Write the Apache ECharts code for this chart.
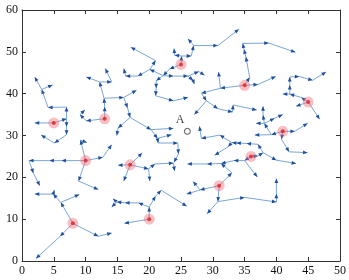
<!DOCTYPE html>
<html><head><meta charset="utf-8">
<script src="https://cdn.jsdelivr.net/npm/echarts@6/dist/echarts.min.js"></script>
<style>html,body{margin:0;padding:0;background:#fff}#c{width:349px;height:280px}</style>
</head><body><div id="c"></div>
<script>
// Axis ticks
var xTicks = [0,5,10,15,20,25,30,35,40,45,50];
var yTicks = [0,10,20,30,40,50,60];
// Red hub (source) nodes
var hubs = [[5,33],[13,34],[25,47],[35,42],[45,38],[10,24],[17,23],[41,31],[36,25],[31,18],[8,9],[20,10]];
// Point A
var pointA = [[26,31]];
// Trees as polylines (parent -> child)
var tree1 = [
 [[5,33],[2,33]],
 [[5,33],[7,34],[7,36.8],[4.1,36.7],[3.1,41],[2,44]],
 [[3.1,41],[4.8,42.1]],
 [[7,34],[7,32.1],[7,30.2],[5.1,28.2],[3,30.1]]
];
var tree2 = [
 [[13,34],[10.1,33.5],[9.1,35],[9.9,36.1]],
 [[13,34],[13,36.9],[12.9,38.9],[12.2,42.8],[10.1,44]],
 [[12.2,42.8],[14.1,42.8],[13.1,46]],
 [[12.9,38.9],[16,39.1],[18,40.8]],
 [[16,39.1],[16.6,36.6],[17,34.3],[20.3,31.4],[23.8,31.7]],
 [[20.3,31.4],[21.3,29.3],[23.5,30.2]],
 [[21.3,29.3],[21.4,28.2],[24.5,28.2],[24.6,25.6],[23.9,23.6]],
 [[17,34.3],[15.1,31.8],[14.9,30]]
];
var tree3 = [
 [[25,47],[25.1,49],[26.6,49],[27,51.5],[26.1,53.1]],
 [[25.1,49],[24,49.2],[23.9,50.8]],
 [[27,51.5],[30.8,51.5],[34.1,55.4]],
 [[25,47],[23.2,45.9],[22.2,44.3],[20.1,45.8],[18.2,44.2],[16.3,44.2],[16,46]],
 [[20.1,45.8],[21,47.9],[17.1,51.1]],
 [[22.2,44.3],[23.8,44.2],[26.1,44.2],[26.9,43.2],[27.1,42.3]],
 [[26.1,44.2],[27.8,45.3],[28.7,44.4]],
 [[22.2,44.3],[21.1,43.1],[21.1,41.3],[21,39.5],[23.8,38.3],[26.1,39.1]]
];
var tree4 = [
 [[35,42],[31.2,41.3],[30.9,45.2]],
 [[31.2,41.3],[28.2,40.1],[29,38.3],[30.8,36.4],[33.1,35.6],[33.2,37.3],[36.9,36.1]],
 [[29,38.3],[27.1,35]],
 [[35,42],[37.1,42.2],[39.9,44.1]],
 [[35,42],[35.8,43.9],[35.2,48.8],[34.9,50.6],[34.7,52],[38.8,52.1],[43,49.9]]
];
var tree5 = [
 [[45,38],[43.9,39.1],[42.1,39.9],[41,39.9]],
 [[42.1,39.9],[42.1,42.1],[42.1,44],[43.6,44.1],[45.7,43.2],[47.8,45.2]],
 [[45,38],[43.1,37]],
 [[45,38],[46.8,33.9]]
];
var tree6 = [
 [[10,24],[6.2,24],[4.3,24],[1.1,24],[1.8,21],[2.8,18]],
 [[10,24],[12.7,24.8],[14.1,27.8]],
 [[10,24],[8.9,19.1],[12,17.1]],
 [[10,24],[9.2,28.9],[10.2,28.3]]
];
var tree7 = [
 [[17,23],[18.9,25.8]],
 [[17,23],[15.1,22.9]],
 [[17,23],[16,19.1]],
 [[17,23],[19.9,22],[20.1,19.1]],
 [[19.9,22],[20.9,23.2],[23.8,23.4],[24,21.5]]
];
var tree8 = [
 [[41,31],[42.9,31],[44.9,32.9]],
 [[41,31],[39.2,30.2],[36.6,30.1]],
 [[39.2,30.2],[38.1,32.9],[36.8,32.9]],
 [[38.1,32.9],[37.9,34.9],[37.9,37]],
 [[38.1,32.9],[39.7,34.1],[41,35]],
 [[41,31],[40.8,29.1],[42,26.1],[44.9,25.9]]
];
var tree9 = [
 [[36,25],[37.1,25.1],[37.9,25.9],[37.1,27.9],[35.3,28.1],[33.7,28.2],[33,28.3]],
 [[37.9,25.9],[40,24.1],[43.1,23.3]],
 [[36,25],[35,24],[33.3,24],[31.3,23.3],[29.1,23.2],[26,23.2]],
 [[35,24],[37,20.1]],
 [[33,28.3],[31.1,30.1],[28.2,29.3],[27.9,32.2]],
 [[33,28.3],[32.4,27.3],[30.3,25.3]]
];
var tree10 = [
 [[31,18],[33,21.1],[31.3,23.3]],
 [[31,18],[28,17],[25.9,16]],
 [[28,17],[26.9,19]],
 [[31,18],[30.8,14.2],[29.1,11.3]],
 [[30.8,14.2],[35,15.2],[40,14.1],[40,16.1],[40,19.7]]
];
var tree11 = [
 [[8,9],[6.1,14],[4.9,16],[2,16]],
 [[4.9,16],[5.1,17]],
 [[6.1,14],[9,15.9]],
 [[8,9],[6,5.9],[2.2,0.6]],
 [[8,9],[12,5.9],[14.1,6.7]]
];
var tree12 = [
 [[20,10],[16.1,9]],
 [[20,10],[20,12.9],[21,15.5],[21.9,16.9],[25.9,13.1]],
 [[20,12.9],[18.3,13.9],[16.2,13.9],[14.9,14.1],[14.3,14.9]],
 [[14.9,14.1],[14.1,12.9]]
];

var trees = [tree1,tree2,tree3,tree4,tree5,tree6,tree7,tree8,tree9,tree10,tree11,tree12];
var edges = [];
trees.forEach(function(t){ t.forEach(function(pl){
  for (var i=0;i<pl.length-1;i++) edges.push([pl[i][0],pl[i][1],pl[i+1][0],pl[i+1][1]]);
});});

function renderEdge(params, api){
  var a = api.coord([api.value(0), api.value(1)]);
  var b = api.coord([api.value(2), api.value(3)]);
  var dx=b[0]-a[0], dy=b[1]-a[1], L=Math.sqrt(dx*dx+dy*dy)||1;
  var ux=dx/L, uy=dy/L, px=-uy, py=ux, hl=4.5, hw=1.9;
  var bx=b[0]-ux*hl, by=b[1]-uy*hl;
  return {type:'group', children:[
    {type:'line', shape:{x1:a[0],y1:a[1],x2:b[0],y2:b[1]}, style:{stroke:'#7aa7d6', lineWidth:1}},
    {type:'polygon', shape:{points:[[b[0],b[1]],[bx+px*hw,by+py*hw],[bx-px*hw,by-py*hw]]}, style:{fill:'#1d4f9e'}}
  ]};
}

var font = 'Liberation Serif';
var chart = echarts.init(document.getElementById('c'), null, {renderer:'canvas'});
function axisCommon(){ return {type:'value', splitLine:{show:false}, axisLine:{onZero:false, lineStyle:{color:'#333', width:1}}, axisTick:{inside:true, length:4, lineStyle:{color:'#333'}}}; }
var xa = Object.assign(axisCommon(), {min:xTicks[0], max:xTicks[xTicks.length-1], interval:5, position:'bottom', axisLabel:{fontFamily:font, fontSize:12, color:'#111', margin:4}});
var xb = Object.assign(axisCommon(), {min:xTicks[0], max:xTicks[xTicks.length-1], interval:5, position:'top', axisLabel:{show:false}});
var ya = Object.assign(axisCommon(), {min:yTicks[0], max:yTicks[yTicks.length-1], interval:10, position:'left', axisLabel:{fontFamily:font, fontSize:12, color:'#111', margin:4}});
var yb = Object.assign(axisCommon(), {min:yTicks[0], max:yTicks[yTicks.length-1], interval:10, position:'right', axisLabel:{show:false}});

chart.setOption({
  animation:false,
  backgroundColor:'#fff',
  grid:{left:22, right:8, top:10, bottom:19},
  xAxis:[xa, xb],
  yAxis:[ya, yb],
  series:[
    {type:'custom', renderItem:renderEdge, data:edges, encode:{x:[0,2], y:[1,3]}, z:2, silent:true},
    {type:'scatter', data:hubs, symbol:'circle', symbolSize:11, itemStyle:{color:'rgba(240,110,120,0.55)'}, z:3, silent:true},
    {type:'scatter', data:hubs, symbol:'circle', symbolSize:4, itemStyle:{color:'#e02020'}, z:4, silent:true},
    {type:'scatter', data:pointA, symbol:'circle', symbolSize:6, itemStyle:{color:'#fff', borderColor:'#222', borderWidth:1}, z:5,
     label:{show:true, formatter:'A', position:[-8,-14], fontFamily:font, fontSize:12, color:'#111'}, silent:true}
  ]
});
</script></body></html>
